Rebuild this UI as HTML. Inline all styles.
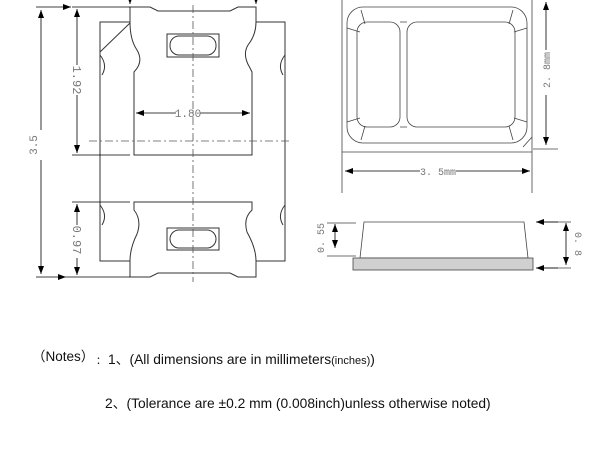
<!DOCTYPE html>
<html><head><meta charset="utf-8"><style>
html,body{margin:0;padding:0;background:#fff;}
svg{display:block;}
text{font-family:"Liberation Sans","Noto Sans CJK SC",sans-serif;}
.m{font-family:"Liberation Mono",monospace;fill:#777;}
</style></head><body>
<svg width="600" height="450" viewBox="0 0 600 450" xmlns="http://www.w3.org/2000/svg">
<defs>
<marker id="a" markerWidth="8" markerHeight="6" refX="8" refY="3" orient="auto" markerUnits="userSpaceOnUse"><path d="M0,0 L8,3 L0,6 z" fill="#000"/></marker>
</defs>
<g fill="none" stroke="#333" stroke-width="1">
<path d="M130,22 H100 V261 H130 M256,22 H285 V261 H256"/>
<path d="M100,55 Q108,65 102,75 M285,55 Q277,65 283,75 M100,205 Q108,215 102,225 M285,205 Q277,215 283,225"/>
<path d="M100,52 L130,23"/>
<path d="M130,7 H150 L158,11 H230 L238,7 H256 V22 Q256,35 248,45 Q242,55 250,68 L252,72 V155 H134 V72 Q144,62 137,50 Q130,40 130,22 Z"/>
<rect x="167" y="34" width="52" height="23"/>
<rect x="170" y="36" width="46" height="19" rx="9"/>
<path d="M134,202 H252 V210 Q243,218 247,232 Q256,248 256,261 V277 H238 L230,273 H158 L150,277 H130 V261 Q130,248 137,234 Q142,220 134,210 Z"/>
<rect x="167" y="228" width="52" height="22"/>
<rect x="170" y="230" width="46" height="18" rx="9"/>
</g>
<g stroke="#555" stroke-width="0.8" fill="none">
<path d="M193,5 V282" stroke-dasharray="8,3,2,3"/>
<path d="M89,141 H292" stroke-dasharray="8,3,2,3"/>
</g>
<g stroke="#000" stroke-width="0.8" fill="none">
<path d="M176,113 H136" marker-end="url(#a)"/><path d="M200,113 H250" marker-end="url(#a)"/>
<path d="M36,7 H71" marker-end="url(#a)"/><path d="M72,7 H130 M72,155 H130 M72,202 H130"/>
<path d="M36,277 H66" marker-end="url(#a)"/><path d="M66,277 H130"/>
<path d="M77,65 V9" marker-end="url(#a)"/><path d="M77,95 V153" marker-end="url(#a)"/>
<path d="M77,225 V204" marker-end="url(#a)"/><path d="M77,258 V275" marker-end="url(#a)"/>
<path d="M41,130 V10" marker-end="url(#a)"/><path d="M41,160 V274" marker-end="url(#a)"/>
<path d="M130,-6 V4" marker-end="url(#a)"/><path d="M256,-6 V4" marker-end="url(#a)"/>
</g>
<text x="188" y="117" font-size="11" class="m" text-anchor="middle">1.80</text>
<text transform="translate(73,80) rotate(90)" font-size="12" class="m" text-anchor="middle">1.92</text>
<text transform="translate(73,240) rotate(90)" font-size="12" class="m" text-anchor="middle">0.97</text>
<text transform="translate(37,145) rotate(-90)" font-size="11" class="m" text-anchor="middle">3.5</text>

<g fill="none" stroke="#444" stroke-width="0.8">
<path d="M342,0 V193 M532,0 V193 M342,152 H532"/>
<rect x="347" y="7" width="180" height="136" rx="16"/>
<rect x="357" y="22" width="43" height="105" rx="10"/>
<rect x="407" y="22" width="108" height="105" rx="10"/>
<path d="M400,22 L407,22 M400,127 L407,127"/>
<path d="M361,10 L365,24 M347,28 L360,32 M513,10 L509,24 M527,28 L514,32 M347,122 L360,118 M361,140 L365,126 M527,122 L514,118 M513,140 L509,126 M523,147 L532,137"/>
<path d="M533,149 H558"/>
<path d="M364,222 H524 L528,258 H360 Z"/>
<path d="M327,223 H356 M327,256 H356 M540,222 H571 M540,268 H571"/>
</g>
<rect x="353" y="258" width="180" height="12" fill="#d0d0d0" stroke="#444" stroke-width="0.8"/>
<g stroke="#000" stroke-width="0.8" fill="none">
<path d="M546,50 V2" marker-end="url(#a)"/><path d="M546,95 V145" marker-end="url(#a)"/>
<path d="M420,171 H345" marker-end="url(#a)"/><path d="M456,171 H530" marker-end="url(#a)"/>
<path d="M335,236 V224" marker-end="url(#a)"/><path d="M335,236 V248" marker-end="url(#a)"/>
<path d="M566,244 V223" marker-end="url(#a)"/><path d="M566,244 V265" marker-end="url(#a)"/>
<path d="M558,222 H536" marker-end="url(#a)"/><path d="M558,268 H536" marker-end="url(#a)"/>
</g>
<text transform="translate(550,70) rotate(-90)" font-size="10" class="m" text-anchor="middle">2. 8mm</text>
<text x="438" y="175" font-size="10" class="m" text-anchor="middle">3. 5mm</text>
<text transform="translate(324,238) rotate(-90)" font-size="10" class="m" text-anchor="middle">0. 55</text>
<text transform="translate(575,244) rotate(90)" font-size="10" class="m" text-anchor="middle">0. 8</text>

<text x="32" y="361" font-size="13.5" fill="#111">（Notes）</text>
<text x="96" y="364" font-size="10" fill="#111">：</text>
<text x="108" y="364" font-size="13.8" fill="#111">1、(All dimensions are in millimeters<tspan font-size="11">(inches)</tspan>)</text>
<text x="105" y="408" font-size="13.8" fill="#111">2、(Tolerance are ±0.2 mm (0.008inch)unless otherwise noted)</text>
</svg>
</body></html>
